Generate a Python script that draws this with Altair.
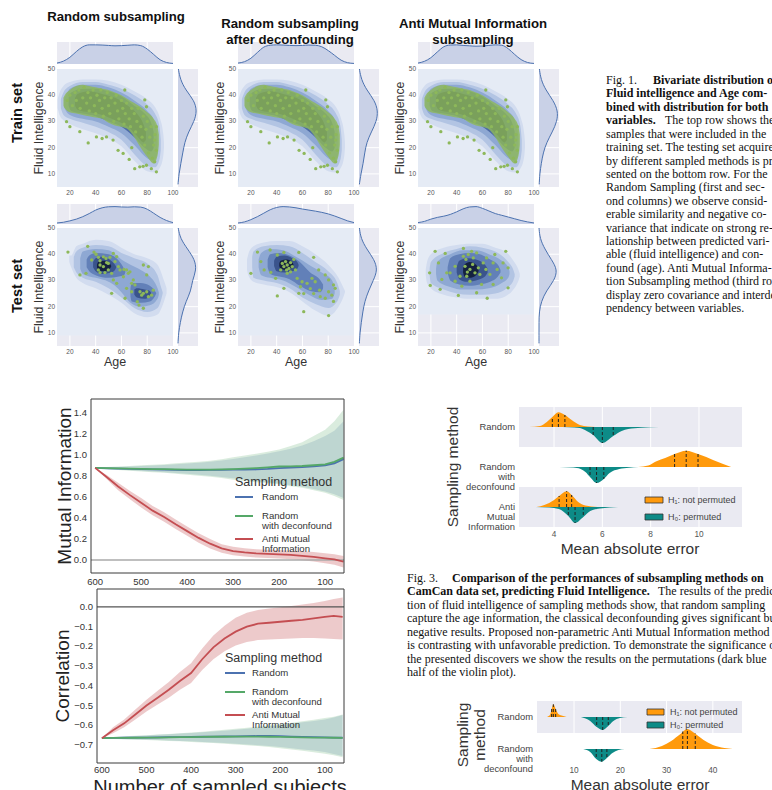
import altair as alt
import pandas as pd

W, H = 772, 790
SANS = "Liberation Sans"
SERIF = "Liberation Serif"
GRID_BG = "#eaeaf2"
KDE_FLOOR = "#e5ebf5"
MARG_FILL = "#c9d1e7"
MARG_LINE = "#4c72b0"
DOT = "#8db85a"
KDE_COLORS = ["#d2dcef", "#b2c4e3", "#8ea8d3", "#6280b8", "#3a548c", "#14213f"]
TRAIN_KDE_COLORS = ["#d2dcef", "#b2c4e3", "#8ea8d3", "#4e6ca6", "#22355f"]
BLUE, GREEN, RED = "#4c72b0", "#55a868", "#c44e52"
ORANGE, TEAL = "#ff9a0c", "#0d8b87"
MINUS = "\u2212"

# ====================== Fig. 1 : joint plots ======================
COL_TITLES = ["Random subsampling", "Random subsampling\nafter deconfounding",
              "Anti Mutual Information\nsubsampling"]
ROW_TITLES = ["Train set", "Test set"]
Y_TITLE = "Fluid Intelligence"
X_TITLE = "Age"
AGE_TICKS = [20, 40, 60, 80, 100]
FI_TICKS = [10, 20, 30, 40, 50]
AGE_DOM = [10, 100]
FI_DOM = [5, 50]

# KDE contour levels: list of levels -> list of blobs -> (age, FI low, FI high)
TRAIN_KDE = [
    [[(10.5, 35, 38.5), (12, 32.5, 41), (15, 30.5, 43.5), (20, 29, 45), (30, 27, 46), (40, 25.5, 46),
      (50, 23.5, 45.5), (60, 20.5, 44), (70, 15, 41.5), (80, 11, 38.5), (86, 10.5, 35.5), (90, 12.5, 31),
      (92.5, 17, 25), (93, 20, 22)]],
    [[(13, 35, 38.5), (15, 32.5, 41), (20, 31, 43.5), (30, 29.5, 45), (40, 28, 45), (50, 26, 44),
      (60, 23, 42.5), (70, 17.5, 40), (80, 13, 36.5), (86, 12.5, 33), (89.5, 15.5, 28), (90.5, 19, 23)]],
    [[(15.5, 35.5, 38.5), (17, 34, 40), (20, 32.5, 42.5), (30, 31, 44), (40, 30, 44), (50, 28, 43),
      (60, 25.5, 41), (70, 21, 38), (80, 16, 34), (85, 15, 30.5), (87.5, 17, 26), (88, 20, 23)]],
    [[(19, 36, 39), (21, 34, 41), (30, 33, 42.5), (40, 32, 42.5), (50, 30, 41.5), (60, 28, 39.5),
      (70, 24, 36), (78, 20, 33), (83, 18.5, 29.5), (85, 20, 26)]],
    [[(24, 36, 39), (26, 34.5, 40.5), (35, 33.5, 41.5), (45, 32.5, 40.5), (55, 30.5, 39), (65, 28, 36),
      (72, 24.5, 33), (77, 22, 29), (79, 23, 26)]],
]
TRAIN_CORE = [(15, 36, 39), (16, 35, 40), (20, 33.5, 42), (25, 33, 43.5), (30, 32.5, 44), (35, 32, 43.5),
              (40, 31.5, 43), (45, 31, 42.5), (50, 29.5, 42), (55, 28.5, 41), (60, 28, 40), (65, 27, 38.5),
              (70, 24, 37), (75, 20, 35.5), (80, 16.5, 33.5), (85, 14, 31), (88, 17, 28), (89, 21, 25)]
TRAIN_AGE = [18, 20, 22, 24, 25, 27, 28, 30, 31, 33, 34, 35, 36, 38, 39, 40, 41, 43, 44, 45, 46, 47, 49, 50,
             51, 52, 54, 55, 56, 57, 58, 60, 61, 62, 63, 64, 66, 67, 68, 70, 71, 72, 73, 75, 76, 77, 78, 79,
             80, 81, 82, 83, 84, 85, 86, 87,
             17.4, 20, 27.7, 34.2, 40.6, 48.4, 53.5, 57.4, 61.3, 70.3, 74.2, 76.8, 79.4, 83.2, 87.1, 85.8,
             85.8, 87.1, 79.4, 78.1, 62.6, 45, 66, 68]
TRAIN_FI = [38, 40, 36, 41, 38, 42, 35, 39, 43, 37, 41, 34, 39, 42, 36, 33, 40, 38, 42, 35, 32, 39, 41, 36,
            33, 39, 30, 37, 40, 34, 31, 38, 35, 29, 33, 37, 31, 28, 35, 33, 26, 30, 35, 28, 24, 32, 21, 27,
            30, 18, 24, 28, 16, 21, 25, 19,
            29.9, 28, 26.1, 21.8, 24.1, 24.1, 22.9, 19, 17.8, 12, 12.7, 12.9, 13.3, 12, 10.8, 14.6,
            22.9, 28, 35.6, 38.2, 42, 23.5, 15.5, 20]

TEST_KDE = [
    [
        [[(19.5, 37, 39.5), (21, 35, 39.5), (25, 31, 43), (30, 29, 44), (40, 27, 45.5), (50, 24.5, 45),
          (60, 21.5, 42.5), (70, 17.5, 40), (80, 16, 38.5), (88, 17, 36), (93, 22, 30), (95, 25, 27)]],
        [[(23, 35, 39), (25, 33, 41), (30, 31, 42.5), (40, 29.5, 43.5), (50, 27, 43), (60, 23.5, 40.5),
          (70, 19.5, 38.5), (80, 18, 36.5), (88, 19.5, 32), (91, 23, 27), (92, 25, 25.5)]],
        [[(28, 34.5, 38.5), (30, 32.5, 41), (40, 31, 42), (50, 29.5, 41.5), (55, 28, 40), (60, 25.5, 38),
          (67, 21.5, 36), (75, 20, 34), (82, 20.5, 31.5), (88, 23, 27), (89, 24.5, 25.5)]],
        [[(33, 35, 38), (35, 33.5, 39.5), (40, 32, 40.5), (50, 31, 40), (58, 31.5, 37.5), (62, 32, 34.5),
          (63, 33, 33.5)],
         [(67, 24, 27), (68, 22, 29), (75, 21.5, 29), (82, 22, 28), (86, 24, 26), (87, 25, 25.2)]],
        [[(38, 35, 37), (40, 33.5, 38.5), (45, 32.5, 39), (52, 33, 37.5), (55, 34, 36), (56, 35, 35.2)],
         [(70, 24.5, 26.5), (72, 23.5, 27), (78, 23, 26.5), (82, 24, 26), (83, 24.8, 25.3)]],
        [[(41, 35, 36), (42, 34, 37), (47, 33.5, 37.5), (51, 34.5, 36.5), (52, 35.2, 35.6)]],
    ],
    [
        [[(17, 34, 38), (18, 32, 40), (22, 29.5, 43), (30, 28.5, 44.5), (40, 27.5, 45), (50, 25.5, 45),
          (60, 22, 43), (70, 18.5, 40), (80, 16.5, 36), (88, 20, 31), (92, 24, 27), (93, 25.5, 26)]],
        [[(21, 35, 39), (22, 31, 41), (30, 30, 43), (40, 29, 43.5), (50, 27, 43), (60, 23.5, 40.5),
          (70, 21, 37), (80, 19.5, 33.5), (87, 22, 29), (89, 24.5, 26)]],
        [[(26, 35, 38), (28, 32, 40.5), (35, 31, 42), (45, 30, 41.5), (55, 27.5, 39), (65, 24.5, 36),
          (75, 22.5, 33), (83, 23, 30), (85, 25, 27.5)]],
        [[(33, 35, 38), (35, 32.5, 40), (42, 31.5, 40.5), (50, 30.5, 39.5), (58, 28, 37), (66, 26, 33),
          (74, 25.5, 30), (76, 27, 28.5)]],
        [[(38, 35.5, 37.5), (40, 33.5, 39), (46, 33, 39.5), (52, 33.5, 38.5), (56, 34.5, 37), (57, 35.5, 36)]],
        [[(42, 35.5, 36.5), (43, 34.5, 37.5), (48, 34, 38), (52, 35, 37), (53, 35.8, 36.2)]],
    ],
    [
        [[(16, 32, 34), (17, 29, 37), (20, 27, 40), (30, 24.5, 42.5), (40, 23.5, 43.5), (50, 23, 44),
          (60, 23, 44), (70, 23, 42.5), (78, 24, 41), (84, 26.5, 37.5), (88, 30, 34), (89, 31.5, 32.5)]],
        [[(19, 32, 34.5), (20, 29, 37), (30, 26.5, 40.5), (40, 25, 42), (50, 24.5, 43), (60, 24.5, 42.5),
          (70, 25, 41), (80, 27.5, 37), (84, 30, 34), (85, 31.5, 32.5)]],
        [[(24, 32.5, 34.5), (25, 30, 37), (35, 27.5, 40), (45, 26.5, 41.5), (55, 26.5, 41.5), (65, 27, 40),
          (75, 29, 37.5), (80, 31, 35), (81, 32.5, 33.5)]],
        [[(33, 33, 35), (35, 30, 38.5), (42, 28.5, 40), (50, 28, 40.5), (58, 28.5, 40), (66, 29.5, 38),
          (72, 31.5, 36), (74, 33, 34)]],
        [[(40, 33, 35), (42, 30.5, 37.5), (48, 29.5, 38.5), (55, 30, 38), (62, 31.5, 36), (64, 33, 34.5)]],
        [[(45, 33, 34.5), (46, 31.5, 36), (50, 31, 37), (55, 32, 36), (57, 33.5, 34.5)]],
    ],
]
TEST_AGE = [
    [18.5, 33.8, 27.8, 32.5, 38.7, 40.3, 42.1, 36.9, 43.4, 46, 48, 51.1, 53.7, 56.3, 55, 49.8, 43.4, 46,
     42.1, 43.4, 47.2, 49.8, 52.4, 58.9, 53.7, 56.3, 52.4, 61.5, 64, 65.3, 66.6, 69.2, 67.9, 70.5, 64,
     74.4, 77, 75.7, 79.6, 80.9, 83.4, 84.7, 79.6, 77, 80.9, 72.3, 73.6, 77, 67.9, 62.8, 62, 57.6, 48.5],
    [25.1, 20, 27.7, 34.9, 40.5, 45.6, 57.2, 68.7, 39.2, 40.5, 45.6, 48.2, 44.4, 45.6, 46.9, 48.2, 49.5,
     50.8, 52.1, 53.3, 47.7, 43.1, 54.6, 50.8, 55.9, 59.7, 58.5, 63.6, 67.4, 69.9, 66.1, 61, 68.7, 73.3,
     77.7, 80.3, 84.1, 85.4, 80.3, 82.8, 77.7, 73.8, 84.1, 80.3, 61, 57.2, 35.4, 30.3, 72.6],
    [19.5, 19, 23.3, 25.9, 28.5, 27.2, 31.1, 34.9, 38.8, 41.3, 45.2, 45.2, 47.2, 49, 52.9, 51.6, 55.5,
     46.5, 48.3, 50.3, 52.4, 54.2, 56.8, 58, 60.6, 63.2, 62.7, 65.8, 68.3, 69.6, 71.4, 74.8, 76, 78.1,
     79.9, 79.9, 59.3, 50.3, 44, 63.7, 55.5, 47.8, 42.6, 38.8, 32.3, 68.3],
]
TEST_FI = [
    [40.8, 43, 32.1, 32.7, 40.8, 40, 38.8, 37.8, 37.5, 39, 38.4, 38.8, 40.3, 39.1, 37.2, 36.5, 35.9, 35.3,
     34, 33, 33, 34, 32.7, 34, 30.2, 28.9, 25.1, 31.4, 34, 32.7, 33.3, 30.2, 28.9, 28.3, 27, 25.7, 25.1,
     24.4, 25.7, 23.8, 24.4, 26.3, 32.1, 35.9, 35.3, 21.9, 20.6, 19.4, 25.7, 23.2, 34.2, 35.3, 36.8],
    [40.8, 32.7, 37.2, 41.6, 39.7, 40.7, 40.7, 38.8, 30.8, 24.1, 27, 32.7, 36.5, 35.3, 37.2, 35.9, 34.6,
     36.8, 35.3, 38, 34, 34, 34, 33.3, 30.8, 29.5, 27.6, 28.9, 30.8, 29.5, 26.9, 25, 25, 26.3, 32.1,
     30.2, 28.3, 27, 25.7, 24.4, 23.2, 23.8, 22, 16.6, 18.1, 25.1, 33.1, 34, 34],
    [28.1, 32.9, 41.1, 36.7, 30.4, 26.6, 40.3, 32.9, 29.7, 24.3, 42.2, 39.2, 38, 39.9, 38.6, 41.1, 40.5,
     35.4, 33.2, 34.2, 36.1, 32.9, 34.8, 32.3, 36.7, 38.6, 34.2, 32.3, 36.7, 39.9, 34.2, 31, 36.7, 41.1,
     34.8, 27.2, 28.5, 29.7, 27.8, 23.2, 25.3, 31.6, 31.6, 35.4, 32.9, 28.5],
]

MARG_AGE = [10, 15, 20, 25, 30, 35, 40, 45, 50, 55, 60, 65, 70, 75, 80, 85, 90, 95, 100]
TRAIN_TOP = [
    [0.05, 0.15, 0.35, 0.65, 0.9, 1.0, 1.0, 0.99, 0.97, 0.95, 0.96, 0.98, 1.0, 0.96, 0.78, 0.5, 0.22, 0.08, 0.03],
    [0.05, 0.12, 0.3, 0.6, 0.88, 0.98, 1.0, 0.99, 0.97, 0.96, 0.97, 0.99, 0.98, 0.9, 0.7, 0.45, 0.2, 0.07, 0.03],
    [0.05, 0.14, 0.33, 0.63, 0.9, 0.99, 1.0, 0.97, 0.95, 0.93, 0.94, 0.97, 1.0, 0.98, 0.8, 0.5, 0.23, 0.08, 0.03],
]
TEST_TOP = [
    [0.06, 0.1, 0.18, 0.28, 0.42, 0.6, 0.8, 0.93, 0.99, 1.0, 0.98, 0.97, 0.99, 0.97, 0.85, 0.62, 0.38, 0.2, 0.08],
    [0.06, 0.12, 0.25, 0.42, 0.62, 0.82, 0.95, 1.0, 0.98, 0.93, 0.86, 0.8, 0.74, 0.67, 0.58, 0.46, 0.32, 0.18, 0.08],
    [0.08, 0.15, 0.28, 0.38, 0.45, 0.55, 0.7, 0.87, 0.98, 1.0, 0.9, 0.75, 0.6, 0.5, 0.4, 0.3, 0.2, 0.12, 0.06],
]
MARG_FI = [6, 10, 14, 18, 22, 26, 30, 34, 38, 42, 46, 50]
TRAIN_RIGHT = [
    [0.0, 0.05, 0.15, 0.25, 0.35, 0.55, 0.85, 1.0, 0.85, 0.4, 0.12, 0.02],
    [0.02, 0.1, 0.22, 0.3, 0.4, 0.65, 0.92, 1.0, 0.82, 0.4, 0.12, 0.02],
    [0.01, 0.04, 0.12, 0.22, 0.4, 0.7, 0.95, 1.0, 0.75, 0.35, 0.1, 0.02],
]
TEST_RIGHT = [
    [0.0, 0.03, 0.12, 0.24, 0.42, 0.68, 0.75, 0.97, 0.88, 0.5, 0.12, 0.01],
    [0.02, 0.05, 0.12, 0.2, 0.3, 0.5, 0.75, 0.98, 0.8, 0.4, 0.1, 0.02],
    [0.0, 0.0, 0.0, 0.01, 0.12, 0.38, 0.8, 0.98, 0.65, 0.3, 0.05, 0.0],
]

FIG1_CAPTION = [
    [("Fig. 1.", "normal"), ("Bivariate distribution of", "bold")],
    [("Fluid intelligence and Age com-", "bold")],
    [("bined with distribution for both", "bold")],
    [("variables.", "bold"), ("The top row shows the", "normal")],
    [("samples that were included in the", "normal")],
    [("training set. The testing set acquired", "normal")],
    [("by different sampled methods is pre-", "normal")],
    [("sented on the bottom row. For the", "normal")],
    [("Random Sampling (first and sec-", "normal")],
    [("ond columns) we observe consid-", "normal")],
    [("erable similarity and negative co-", "normal")],
    [("variance that indicate on strong re-", "normal")],
    [("lationship between predicted vari-", "normal")],
    [("able (fluid intelligence) and con-", "normal")],
    [("found (age). Anti Mutual Informa-", "normal")],
    [("tion Subsampling method (third row)", "normal")],
    [("display zero covariance and interde-", "normal")],
    [("pendency between variables.", "normal")],
]

# ====================== Fig. 2 : MI / correlation curves ======================
LINE_N = [600, 575, 550, 525, 500, 475, 450, 425, 400, 375, 350, 325, 300, 275, 250, 225, 200, 175, 150,
          125, 100, 80, 60]
SERIES_NAMES = ["Random", "Random\n with deconfound", "Anti Mutual\n Information"]
LEGEND_TITLE = "Sampling method"

MI_RANDOM = [0.877, 0.873, 0.870, 0.867, 0.865, 0.862, 0.860, 0.858, 0.857, 0.857, 0.858, 0.859, 0.860,
             0.861, 0.862, 0.867, 0.875, 0.880, 0.885, 0.892, 0.900, 0.920, 0.960]
MI_RANDOM_LO = [0.877, 0.867, 0.862, 0.855, 0.848, 0.842, 0.836, 0.829, 0.820, 0.811, 0.802, 0.791, 0.778,
                0.765, 0.752, 0.740, 0.728, 0.712, 0.698, 0.677, 0.652, 0.625, 0.590]
MI_RANDOM_HI = [0.877, 0.880, 0.885, 0.890, 0.895, 0.900, 0.905, 0.912, 0.918, 0.925, 0.935, 0.948, 0.962,
                0.978, 0.995, 1.015, 1.035, 1.060, 1.090, 1.130, 1.180, 1.230, 1.320]
MI_DECONF = [0.877, 0.874, 0.872, 0.870, 0.868, 0.866, 0.865, 0.862, 0.860, 0.860, 0.860, 0.862, 0.865,
             0.870, 0.875, 0.882, 0.890, 0.892, 0.895, 0.902, 0.910, 0.935, 0.975]
MI_DECONF_LO = [0.877, 0.865, 0.858, 0.850, 0.843, 0.836, 0.830, 0.822, 0.812, 0.803, 0.792, 0.780, 0.765,
                0.752, 0.740, 0.730, 0.720, 0.702, 0.688, 0.665, 0.640, 0.610, 0.570]
MI_DECONF_HI = [0.877, 0.885, 0.890, 0.896, 0.903, 0.908, 0.912, 0.920, 0.928, 0.935, 0.945, 0.960, 0.978,
                0.995, 1.012, 1.030, 1.052, 1.085, 1.120, 1.180, 1.240, 1.320, 1.430]
MI_ANTI = [0.877, 0.79, 0.70, 0.62, 0.545, 0.47, 0.41, 0.34, 0.275, 0.21, 0.155, 0.11, 0.085, 0.072, 0.063,
           0.058, 0.054, 0.048, 0.040, 0.030, 0.016, 0.005, -0.016]
MI_ANTI_LO = [0.877, 0.77, 0.665, 0.58, 0.50, 0.425, 0.365, 0.295, 0.23, 0.165, 0.11, 0.07, 0.045, 0.032,
              0.023, 0.018, 0.014, 0.008, -0.002, -0.015, -0.032, -0.045, -0.071]
MI_ANTI_HI = [0.877, 0.81, 0.735, 0.66, 0.59, 0.515, 0.455, 0.385, 0.32, 0.255, 0.2, 0.15, 0.125, 0.112,
              0.103, 0.098, 0.094, 0.088, 0.082, 0.075, 0.064, 0.055, 0.039]

CORR_RANDOM = [-0.665, -0.664, -0.663, -0.662, -0.662, -0.661, -0.660, -0.660, -0.659, -0.658, -0.657,
               -0.656, -0.656, -0.655, -0.654, -0.654, -0.655, -0.657, -0.659, -0.660, -0.661, -0.662, -0.663]
CORR_RANDOM_LO = [-0.665, -0.668, -0.670, -0.672, -0.673, -0.675, -0.677, -0.679, -0.681, -0.684, -0.687,
                  -0.690, -0.693, -0.697, -0.701, -0.705, -0.710, -0.716, -0.722, -0.728, -0.735, -0.745, -0.755]
CORR_RANDOM_HI = [-0.665, -0.660, -0.657, -0.654, -0.651, -0.648, -0.645, -0.642, -0.639, -0.635, -0.631,
                  -0.627, -0.622, -0.617, -0.611, -0.605, -0.598, -0.592, -0.585, -0.578, -0.570, -0.560, -0.548]
CORR_DECONF = [-0.665, -0.664, -0.664, -0.663, -0.662, -0.662, -0.661, -0.660, -0.660, -0.659, -0.658,
               -0.658, -0.657, -0.657, -0.657, -0.658, -0.659, -0.660, -0.661, -0.662, -0.662, -0.663, -0.664]
CORR_DECONF_LO = [-0.665, -0.669, -0.671, -0.673, -0.675, -0.677, -0.679, -0.681, -0.684, -0.687, -0.690,
                  -0.693, -0.697, -0.701, -0.705, -0.710, -0.716, -0.722, -0.729, -0.736, -0.744, -0.752, -0.762]
CORR_DECONF_HI = [-0.665, -0.659, -0.656, -0.653, -0.650, -0.647, -0.644, -0.640, -0.636, -0.632, -0.628,
                  -0.623, -0.618, -0.612, -0.606, -0.600, -0.594, -0.587, -0.580, -0.572, -0.563, -0.556, -0.545]
CORR_ANTI = [-0.665, -0.625, -0.59, -0.545, -0.50, -0.46, -0.42, -0.375, -0.335, -0.265, -0.205, -0.16,
             -0.125, -0.10, -0.085, -0.08, -0.075, -0.07, -0.065, -0.058, -0.05, -0.045, -0.05]
CORR_ANTI_LO = [-0.665, -0.64, -0.61, -0.57, -0.53, -0.495, -0.46, -0.42, -0.385, -0.32, -0.265, -0.225,
                -0.195, -0.178, -0.168, -0.165, -0.163, -0.16, -0.158, -0.158, -0.16, -0.162, -0.165]
CORR_ANTI_HI = [-0.665, -0.61, -0.57, -0.52, -0.47, -0.425, -0.38, -0.33, -0.285, -0.21, -0.145, -0.095,
                -0.055, -0.03, -0.015, -0.008, -0.002, 0.005, 0.012, 0.02, 0.03, 0.04, 0.048]
MI_TICKS = [0.0, 0.2, 0.4, 0.6, 0.8, 1.0, 1.2, 1.4]
CORR_TICKS = [-0.7, -0.6, -0.5, -0.4, -0.3, -0.2, -0.1, 0.0]
N_TICKS = [600, 500, 400, 300, 200, 100]

# ====================== Fig. 3 : violins ======================
V1_LABELS = ["Random", "Random\nwith\ndeconfound", "Anti\nMutual\nInformation"]
V1_TICKS = [4, 6, 8, 10]
V1_H1 = [
    [(2.97, 0), (3.42, 1), (3.7, 5), (3.93, 10), (4.18, 14.7), (4.45, 12), (4.73, 7), (5.07, 2), (5.4, 0.5), (5.7, 0)],
    [(7.48, 0), (7.9, 1.5), (8.24, 5.7), (8.6, 9), (8.99, 13), (9.47, 16.3), (9.96, 13), (10.3, 10), (10.58, 7),
     (11.0, 3), (11.33, 0)],
    [(3.28, 0), (3.6, 2), (4.0, 7), (4.21, 11), (4.52, 15.7), (4.73, 12), (5.0, 5), (5.3, 1.5), (5.8, 0)],
]
V1_H0 = [
    [(4.11, 0), (4.6, 0.3), (5.07, 1), (5.35, 4), (5.62, 8), (6.0, 16), (6.45, 9), (6.8, 4), (7.07, 2), (7.6, 0.7),
     (8.35, 0)],
    [(4.22, 0), (4.8, 0.5), (5.1, 2), (5.3, 5), (5.49, 10), (5.76, 16), (6.06, 12), (6.3, 6), (6.7, 2), (7.1, 0.7),
     (7.5, 0)],
    [(3.22, 0), (3.8, 0.5), (4.2, 2), (4.59, 9), (4.87, 16), (5.21, 10), (5.5, 4), (5.9, 1.5), (6.3, 0.5), (6.65, 0)],
]
V1_H1_Q = [[(3.93, 10), (4.18, 14.7), (4.45, 12)], [(8.99, 13), (9.47, 16.3), (9.96, 13)],
           [(4.21, 11), (4.52, 15.7), (4.73, 12)]]
V1_H0_Q = [[(5.62, 8), (6.0, 16), (6.45, 9)], [(5.49, 10), (5.76, 16), (6.06, 12)],
           [(4.59, 9), (4.87, 16), (5.21, 10)]]

V2_LABELS = ["Random", "Random\nwith\ndeconfound"]
V2_TICKS = [10, 20, 30, 40]
V2_H1 = [
    [(4.1, 0), (4.8, 2), (5.17, 8), (5.53, 12.7), (6.03, 8), (6.6, 3), (7.3, 1.5), (8.4, 0)],
    [(26.3, 0), (29, 3), (31, 8), (33, 15), (34.5, 20), (36, 16), (38, 9), (40, 4), (42.5, 1), (44.3, 0)],
]
V2_H0 = [
    [(11.5, 0), (13.5, 4), (14.9, 10), (16.2, 13), (17.4, 9), (18.5, 4), (19.9, 1), (21.6, 0)],
    [(12.0, 0), (13.5, 3), (14.8, 10), (16.0, 12.7), (17.1, 9), (18.3, 4), (19.6, 1), (21.0, 0)],
]
V2_H1_Q = [[(5.17, 8), (5.53, 12.7), (6.03, 8)], [(33.5, 17.5), (34.5, 20), (36.2, 15.5)]]
V2_H0_Q = [[(14.9, 10), (16.2, 13), (17.4, 9)], [(14.8, 10), (16.0, 12.7), (17.1, 9)]]
HYP_LABELS = ["H\u2081: not permuted", "H\u2080: permuted"]
V_Y_TITLE = "Sampling method"
V_Y_TITLE_2 = "Sampling\nmethod"
V_X_TITLE = "Mean absolute error"
N_TITLE = "Number of sampled subjects"

FIG3_CAPTION = [
    [("Fig. 3.", "normal"), ("Comparison of the performances of subsampling methods on", "bold")],
    [("CamCan data set, predicting Fluid Intelligence.", "bold"), ("The results of the predic-", "normal")],
    [("tion of fluid intelligence of sampling methods show, that random sampling", "normal")],
    [("capture the age information, the classical deconfounding gives significant but", "normal")],
    [("negative results. Proposed non-parametric Anti Mutual Information method", "normal")],
    [("is contrasting with unfavorable prediction. To demonstrate the significance of", "normal")],
    [("the presented discovers we show the results on the permutations (dark blue", "normal")],
    [("half of the violin plot).", "normal")],
]

# ====================== helpers ======================
ONE = pd.DataFrame({"k": [0]})


def T(text, x, y, size, color="#333", weight="normal", align="left", angle=0, font=SANS,
      baseline="middle", lh=None):
    kw = dict(text=text, fontSize=size, color=color, fontWeight=weight, align=align, angle=angle,
              font=font, baseline=baseline, lineBreak="\n")
    if lh:
        kw["lineHeight"] = lh
    return alt.Chart(ONE).mark_text(**kw).encode(x=alt.value(x), y=alt.value(y))


def lin(dom, rng):
    return alt.Scale(domain=dom, range=rng, nice=False, zero=False)


def fmt(v, nd):
    s = f"{v:.{nd}f}"
    return s.replace("-", MINUS)


def xlabels(ticks, texts, xs, ypix, size, color):
    df = pd.DataFrame({"t": ticks, "s": texts})
    return alt.Chart(df).mark_text(fontSize=size, color=color, font=SANS, align="center",
                                   baseline="top").encode(
        x=alt.X("t:Q", scale=xs, axis=None), y=alt.value(ypix), text="s:N")


def ylabels(ticks, texts, ys, xpix, size, color, lh=None):
    df = pd.DataFrame({"t": ticks, "s": texts})
    kw = dict(fontSize=size, color=color, font=SANS, align="right", baseline="middle", lineBreak="\n")
    if lh:
        kw["lineHeight"] = lh
    return alt.Chart(df).mark_text(**kw).encode(
        y=alt.Y("t:Q", scale=ys, axis=None), x=alt.value(xpix), text="s:N")


PW, PH = 116, 118
COL_X = [57, 238, 418]
TEST_FLOOR = [9, 9, 17]


def main_panel(x0, ytop, kde, colors, ages, fis, floor, core=None):
    ybot = ytop + PH
    xs = lin(AGE_DOM, [x0, x0 + PW])
    ys = lin(FI_DOM, [ybot, ytop])
    L = []
    bg = pd.DataFrame({"a0": [AGE_DOM[0]], "a1": [AGE_DOM[1]], "f0": [FI_DOM[0]], "f1": [FI_DOM[1]],
                       "ff": [floor]})
    L.append(alt.Chart(bg).mark_rect(color=GRID_BG).encode(
        x=alt.X("a0:Q", scale=xs, axis=None), x2="a1:Q", y=alt.Y("f0:Q", scale=ys, axis=None), y2="f1:Q"))
    gv = pd.DataFrame({"a": AGE_TICKS[:-1], "f0": FI_DOM[0], "f1": FI_DOM[1]})
    L.append(alt.Chart(gv).mark_rule(color="white", strokeWidth=1).encode(
        x=alt.X("a:Q", scale=xs, axis=None), y=alt.Y("f0:Q", scale=ys, axis=None), y2="f1:Q"))
    gh = pd.DataFrame({"f": FI_TICKS[:-1], "a0": AGE_DOM[0], "a1": AGE_DOM[1]})
    L.append(alt.Chart(gh).mark_rule(color="white", strokeWidth=1).encode(
        y=alt.Y("f:Q", scale=ys, axis=None), x=alt.X("a0:Q", scale=xs, axis=None), x2="a1:Q"))
    L.append(alt.Chart(bg).mark_rect(color=KDE_FLOOR).encode(
        x=alt.X("a0:Q", scale=xs, axis=None), x2="a1:Q", y=alt.Y("ff:Q", scale=ys, axis=None), y2="f1:Q"))
    for li, level in enumerate(kde):
        rows = []
        for bi, blob in enumerate(level):
            for a, lo, hi in blob:
                rows.append({"age": a, "lo": lo, "hi": hi, "blob": bi})
        df = pd.DataFrame(rows)
        L.append(alt.Chart(df).mark_area(color=colors[li], interpolate="monotone").encode(
            x=alt.X("age:Q", scale=xs, axis=None), y=alt.Y("lo:Q", scale=ys, axis=None, stack=None),
            y2="hi:Q", detail="blob:N"))
    if core is not None:
        df = pd.DataFrame(core, columns=["age", "lo", "hi"])
        L.append(alt.Chart(df).mark_area(color=DOT, opacity=0.82, interpolate="monotone").encode(
            x=alt.X("age:Q", scale=xs, axis=None), y=alt.Y("lo:Q", scale=ys, axis=None, stack=None),
            y2="hi:Q"))
    pts = pd.DataFrame({"age": ages, "fi": fis})
    L.append(alt.Chart(pts).mark_circle(color=DOT, size=11, opacity=1).encode(
        x=alt.X("age:Q", scale=xs, axis=None), y=alt.Y("fi:Q", scale=ys, axis=None)))
    L.append(xlabels(AGE_TICKS, [str(t) for t in AGE_TICKS], xs, ybot + 3, 6.5, "#555"))
    L.append(ylabels(FI_TICKS, [str(t) for t in FI_TICKS], ys, x0 - 2, 6.5, "#555"))
    return alt.layer(*L)


def top_marg(x0, y0, y1, dens):
    xs = lin(AGE_DOM, [x0, x0 + PW])
    ys = lin([0, 1.15], [y1, y0])
    bg = pd.DataFrame({"a0": [AGE_DOM[0]], "a1": [AGE_DOM[1]], "d0": [0.0], "d1": [1.15]})
    gv = pd.DataFrame({"a": AGE_TICKS[:-1], "d0": 0.0, "d1": 1.15})
    df = pd.DataFrame({"age": MARG_AGE, "d": dens})
    return alt.layer(
        alt.Chart(bg).mark_rect(color=GRID_BG).encode(
            x=alt.X("a0:Q", scale=xs, axis=None), x2="a1:Q", y=alt.Y("d0:Q", scale=ys, axis=None), y2="d1:Q"),
        alt.Chart(gv).mark_rule(color="white", strokeWidth=1).encode(
            x=alt.X("a:Q", scale=xs, axis=None), y=alt.Y("d0:Q", scale=ys, axis=None), y2="d1:Q"),
        alt.Chart(df).mark_area(color=MARG_FILL, interpolate="monotone").encode(
            x=alt.X("age:Q", scale=xs, axis=None), y=alt.Y("d:Q", scale=ys, axis=None)),
        alt.Chart(df).mark_line(color=MARG_LINE, strokeWidth=1, interpolate="monotone").encode(
            x=alt.X("age:Q", scale=xs, axis=None), y=alt.Y("d:Q", scale=ys, axis=None)),
    )


def right_marg(x0, ytop, dens):
    ybot = ytop + PH
    xs = lin([0, 1.05], [x0, x0 + 20])
    ys = lin(FI_DOM, [ybot, ytop])
    bg = pd.DataFrame({"d0": [0.0], "d1": [1.05], "f0": [FI_DOM[0]], "f1": [FI_DOM[1]]})
    gh = pd.DataFrame({"f": FI_TICKS[:-1], "d0": 0.0, "d1": 1.05})
    df = pd.DataFrame({"fi": MARG_FI, "d": dens})
    return alt.layer(
        alt.Chart(bg).mark_rect(color=GRID_BG).encode(
            x=alt.X("d0:Q", scale=xs, axis=None), x2="d1:Q", y=alt.Y("f0:Q", scale=ys, axis=None), y2="f1:Q"),
        alt.Chart(gh).mark_rule(color="white", strokeWidth=1).encode(
            y=alt.Y("f:Q", scale=ys, axis=None), x=alt.X("d0:Q", scale=xs, axis=None), x2="d1:Q"),
        alt.Chart(df).mark_area(color=MARG_FILL, orient="horizontal", interpolate="basis").encode(
            y=alt.Y("fi:Q", scale=ys, axis=None), x=alt.X("d:Q", scale=xs, axis=None)),
        alt.Chart(df).mark_line(color=MARG_LINE, strokeWidth=1, interpolate="basis").encode(
            y=alt.Y("fi:Q", scale=ys, axis=None), x=alt.X("d:Q", scale=xs, axis=None), order="fi:Q"),
    )


def line_panel(x_dom, x_rng, y_dom, y_rng, y_ticks, series, zero_color, xlab_gap):
    xs = lin(x_dom, x_rng)
    ys = lin(y_dom, y_rng)
    L = []
    for name, color, op, mean, lo, hi in series:
        df = pd.DataFrame({"n": LINE_N, "lo": lo, "hi": hi})
        L.append(alt.Chart(df).mark_area(color=color, opacity=op).encode(
            x=alt.X("n:Q", scale=xs, axis=None), y=alt.Y("lo:Q", scale=ys, axis=None, stack=None), y2="hi:Q"))
    zero = pd.DataFrame({"x0": [x_dom[0]], "x1": [x_dom[1]], "y0": [0.0]})
    L.append(alt.Chart(zero).mark_rule(color=zero_color, strokeWidth=1.3).encode(
        x=alt.X("x0:Q", scale=xs, axis=None), x2="x1:Q", y=alt.Y("y0:Q", scale=ys, axis=None)))
    for name, color, op, mean, lo, hi in series:
        df = pd.DataFrame({"n": LINE_N, "m": mean})
        L.append(alt.Chart(df).mark_line(color=color, strokeWidth=1.8).encode(
            x=alt.X("n:Q", scale=xs, axis=None), y=alt.Y("m:Q", scale=ys, axis=None)))
    frame = pd.DataFrame({"x0": [x_dom[0]], "x1": [x_dom[1]], "y0": [y_dom[0]], "y1": [y_dom[1]]})
    L.append(alt.Chart(frame).mark_rect(fillOpacity=0, stroke="#3a3a3a", strokeWidth=1).encode(
        x=alt.X("x0:Q", scale=xs, axis=None), x2="x1:Q",
        y=alt.Y("y0:Q", scale=ys, axis=None), y2="y1:Q"))
    L.append(xlabels(N_TICKS, [str(t) for t in N_TICKS], xs, y_rng[0] + xlab_gap, 9.5, "#333"))
    L.append(ylabels(y_ticks, [fmt(t, 1) for t in y_ticks], ys, min(x_rng) - 4, 9.5, "#333"))
    return alt.layer(*L)


def violin_panel(x_dom, x_rng, y_rng, row_px, h1, h0, h1q, h0q, labels, grey_rows, grid_top, ticks, xgap):
    n = len(labels)
    xs = lin(x_dom, x_rng)
    ys = lin([0, n], y_rng)
    L = []
    g = pd.DataFrame({"x0": x_dom[0], "x1": x_dom[1], "r0": grey_rows, "r1": [r + 1 for r in grey_rows]})
    L.append(alt.Chart(g).mark_rect(color=GRID_BG).encode(
        x=alt.X("x0:Q", scale=xs, axis=None), x2="x1:Q", y=alt.Y("r0:Q", scale=ys, axis=None), y2="r1:Q"))
    gl = pd.DataFrame({"t": ticks, "r0": 0, "r1": grid_top})
    L.append(alt.Chart(gl).mark_rule(color="white", strokeWidth=1).encode(
        x=alt.X("t:Q", scale=xs, axis=None), y=alt.Y("r0:Q", scale=ys, axis=None), y2="r1:Q"))
    rows, qrows = [], []
    for hyp, sign, curves, quarts in (("H1", -1, h1, h1q), ("H0", 1, h0, h0q)):
        for i in range(n):
            for x, d in curves[i]:
                rows.append({"m": i, "hyp": hyp, "mae": x, "base": i + 0.5, "edge": i + 0.5 + sign * d / row_px})
            for x, d in quarts[i]:
                qrows.append({"mae": x, "base": i + 0.5, "edge": i + 0.5 + sign * d / row_px})
    df = pd.DataFrame(rows)
    L.append(alt.Chart(df).mark_area(interpolate="monotone").encode(
        x=alt.X("mae:Q", scale=xs, axis=None),
        y=alt.Y("base:Q", scale=ys, stack=None, axis=None),
        y2="edge:Q",
        color=alt.Color("hyp:N", scale=alt.Scale(domain=["H1", "H0"], range=[ORANGE, TEAL]), legend=None),
        detail="m:N"))
    L.append(alt.Chart(pd.DataFrame(qrows)).mark_rule(color="#222", strokeWidth=1, strokeDash=[3, 2]).encode(
        x=alt.X("mae:Q", scale=xs, axis=None), y=alt.Y("base:Q", scale=ys, axis=None), y2="edge:Q"))
    L.append(xlabels(ticks, [str(t) for t in ticks], xs, y_rng[1] + xgap, 8.3, "#555"))
    L.append(ylabels([i + 0.5 for i in range(n)], labels, ys, x_rng[0] - 4, 9.4, "#444", lh=10))
    return alt.layer(*L)


# ====================== assemble ======================
layers = []
for c in range(3):
    x0 = COL_X[c]
    layers.append(top_marg(x0, 42, 64, TRAIN_TOP[c]))
    layers.append(main_panel(x0, 69, TRAIN_KDE, TRAIN_KDE_COLORS, TRAIN_AGE, TRAIN_FI, FI_DOM[0],
                             core=TRAIN_CORE))
    layers.append(right_marg(x0 + PW + 5, 69, TRAIN_RIGHT[c]))
    layers.append(top_marg(x0, 204, 224, TEST_TOP[c]))
    layers.append(main_panel(x0, 228, TEST_KDE[c], KDE_COLORS, TEST_AGE[c], TEST_FI[c], TEST_FLOOR[c]))
    layers.append(right_marg(x0 + PW + 5, 228, TEST_RIGHT[c]))

MI_SERIES = [
    (SERIES_NAMES[0], BLUE, 0.2, MI_RANDOM, MI_RANDOM_LO, MI_RANDOM_HI),
    (SERIES_NAMES[1], GREEN, 0.22, MI_DECONF, MI_DECONF_LO, MI_DECONF_HI),
    (SERIES_NAMES[2], RED, 0.3, MI_ANTI, MI_ANTI_LO, MI_ANTI_HI),
]
CORR_SERIES = [
    (SERIES_NAMES[0], BLUE, 0.2, CORR_RANDOM, CORR_RANDOM_LO, CORR_RANDOM_HI),
    (SERIES_NAMES[1], GREEN, 0.22, CORR_DECONF, CORR_DECONF_LO, CORR_DECONF_HI),
    (SERIES_NAMES[2], RED, 0.3, CORR_ANTI, CORR_ANTI_LO, CORR_ANTI_HI),
]
layers.append(line_panel([59, 609], [344, 91], [-0.124, 1.533], [573, 399], MI_TICKS, MI_SERIES,
                         "#aaaaaa", 4))
layers.append(line_panel([57, 611], [344, 97], [-0.791, 0.091], [763, 589], CORR_TICKS, CORR_SERIES,
                         "#555555", 2))

layers.append(violin_panel([2.55, 11.78], [519, 742], [407, 527], 40, V1_H1, V1_H0, V1_H1_Q, V1_H0_Q,
                           V1_LABELS, [0, 2], 3, V1_TICKS, 3))
layers.append(violin_panel([2.0, 46.3], [537, 742], [701, 765], 32, V2_H1, V2_H0, V2_H1_Q, V2_H0_Q,
                           V2_LABELS, [0], 1, V2_TICKS, 1))

# ---- text: titles, axis titles ----
layers.append(T(COL_TITLES[0], 116, 17, 13.2, "#111", "bold", "center"))
layers.append(T(COL_TITLES[1], 290, 24, 13.2, "#111", "bold", "center", lh=16))
layers.append(T(COL_TITLES[2], 473, 24, 13.2, "#111", "bold", "center", lh=16))
layers.append(T(ROW_TITLES[0], 18, 113, 14.6, "#111", "bold", "center", angle=270))
layers.append(T(ROW_TITLES[1], 18, 286, 14.6, "#111", "bold", "center", angle=270))
for xc in (39, 220, 400):
    layers.append(T(Y_TITLE, xc, 128, 12.4, "#333", align="center", angle=270))
    layers.append(T(Y_TITLE, xc, 287, 12.4, "#333", align="center", angle=270))
for xc in (115, 296, 476):
    layers.append(T(X_TITLE, xc, 362, 12.5, "#333", align="center"))

layers.append(T("Mutual Information", 65, 486, 19, "#222", align="center", angle=270))
layers.append(T("Correlation", 63, 676, 19, "#222", align="center", angle=270))
layers.append(T(N_TITLE, 220, 778, 20, "#222", align="center", baseline="top"))

# manual legends of the line charts
for (tx, ty, lx0, lx1, labx, ys) in ((235, 482, 235, 253, 262, (497, 516, 539)),
                                     (225, 658, 225, 245, 252, (673, 692, 715))):
    layers.append(T(LEGEND_TITLE, tx, ty, 12.5, "#333"))
    for name, color, yy in zip(SERIES_NAMES, (BLUE, GREEN, RED), ys):
        layers.append(alt.Chart(ONE).mark_rule(color=color, strokeWidth=2).encode(
            x=alt.value(lx0), x2=alt.value(lx1), y=alt.value(yy)))
        layers.append(T(name, labx, yy, 9.6, "#333", lh=10))

# violin titles and legends
layers.append(T(V_Y_TITLE, 453, 467, 15.5, "#333", align="center", angle=270))
layers.append(T(V_X_TITLE, 630, 549, 15.5, "#333", align="center"))
layers.append(T(V_Y_TITLE_2, 463, 735, 15.5, "#333", align="center", angle=270, lh=17))
layers.append(T(V_X_TITLE, 640, 785, 15.5, "#333", align="center"))
for (bx0, bx1, labx, ys) in ((645, 663, 668, (500, 517)), (647, 664, 670, (712, 725))):
    for lab, color, yy in zip(HYP_LABELS, (ORANGE, TEAL), ys):
        layers.append(alt.Chart(ONE).mark_rect(color=color, stroke="#333", strokeWidth=0.8).encode(
            x=alt.value(bx0), x2=alt.value(bx1), y=alt.value(yy - 3), y2=alt.value(yy + 3)))
        layers.append(T(lab, labx, yy, 9, "#444"))

# captions
FIG1_SEG_X = {(0, 1): 653, (3, 1): 665}
FIG3_SEG_X = {(0, 1): 452, (1, 1): 658}
for caption, x0, y0, segx in ((FIG1_CAPTION, 606, 80, FIG1_SEG_X), (FIG3_CAPTION, 407, 578, FIG3_SEG_X)):
    for i, segs in enumerate(caption):
        for j, (txt, wt) in enumerate(segs):
            layers.append(T(txt, segx.get((i, j), x0), y0 + 13.42 * i, 12, "#111", wt, font=SERIF))

chart = alt.layer(*layers).resolve_scale(
    x="independent", y="independent", color="independent"
).properties(
    width=W, height=H, autosize=alt.AutoSizeParams(type="none"), padding=0, background="white"
).configure_view(stroke=None)

chart.save("out.html", embed_options={"renderer": "svg", "actions": False})
